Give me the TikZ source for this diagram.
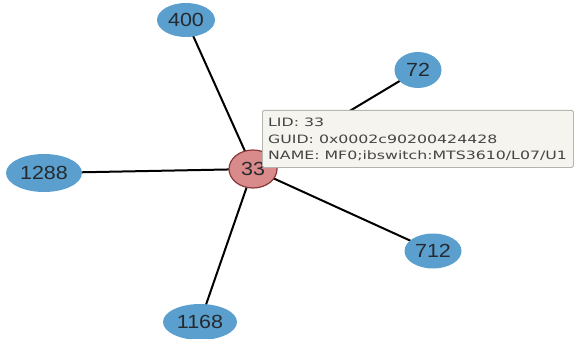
\documentclass[tikz,border=0pt]{standalone}
\usepackage{graphicx}
\usepackage{fontspec}
\setmainfont{Liberation Sans}
\newfontfamily\tipfont{DejaVu Sans}
\usetikzlibrary{shapes.geometric,backgrounds}
\definecolor{nodeblue}{HTML}{5A9FCD}
\definecolor{nodetext}{HTML}{262A2E}
\definecolor{redfill}{HTML}{D98A8A}
\definecolor{redborder}{HTML}{8A3A3A}
\definecolor{tipfill}{HTML}{F5F4EF}
\definecolor{tipborder}{HTML}{B4B4B0}
\definecolor{tiptext}{HTML}{454545}
\tikzset{
  bluenode/.style={ellipse, fill=nodeblue, inner sep=0pt, text=nodetext},
  rednode/.style={ellipse, fill=redfill, draw=redborder, line width=1.2pt, inner sep=0pt, text=nodetext},
  edgeline/.style={line width=2pt, black},
  tipbox/.style={draw=tipborder, fill=tipfill, line width=0.8pt, rounded corners=1.5pt},
  tiplabel/.style={anchor=base west, inner sep=0pt, text=tiptext},
}
\newcommand{\nlab}[1]{\fontsize{19}{19}\selectfont\scalebox{1.13}[1]{#1}}
\newcommand{\tline}[1]{\tipfont\fontsize{11.5}{11.5}\selectfont\scalebox{1.37}[1]{#1}}
\begin{document}
\begin{tikzpicture}[x=1pt,y=-1pt]
\useasboundingbox (0,0) rectangle (577,339);
% nodes
\node[rednode, minimum width=48pt, minimum height=38pt] (n33) at (253,169) {\nlab{33}};
\node[bluenode, minimum width=58pt, minimum height=34pt] (n400) at (186,20) {\nlab{400}};
\node[bluenode, minimum width=47pt, minimum height=36pt] (n72) at (418,70) {\nlab{72}};
\node[bluenode, minimum width=76pt, minimum height=38pt] (n1288) at (44,173) {\nlab{1288}};
\node[bluenode, minimum width=74pt, minimum height=36pt] (n1168) at (200,322) {\nlab{1168}};
\node[bluenode, minimum width=57pt, minimum height=35pt] (n712) at (433,251) {\nlab{712}};
\begin{scope}[on background layer]
\draw[edgeline] (n33.center) -- (n400.center);
\draw[edgeline] (n33.center) -- (n72.center);
\draw[edgeline] (n33.center) -- (n1288.center);
\draw[edgeline] (n33.center) -- (n1168.center);
\draw[edgeline] (n33.center) -- (n712.center);
\end{scope}
% tooltip
\node[tipbox, minimum width=311pt, minimum height=57pt, anchor=north west, inner sep=0pt] (tip) at (262,110) {};
\node[tiplabel] (t1) at (268,127) {\tline{LID: 33}};
\node[tiplabel] (t2) at (268,143.5) {\tline{GUID: 0x0002c90200424428}};
\node[tiplabel] (t3) at (268,160) {\tline{NAME: MF0;ibswitch:MTS3610/L07/U1}};
\end{tikzpicture}
\end{document}
